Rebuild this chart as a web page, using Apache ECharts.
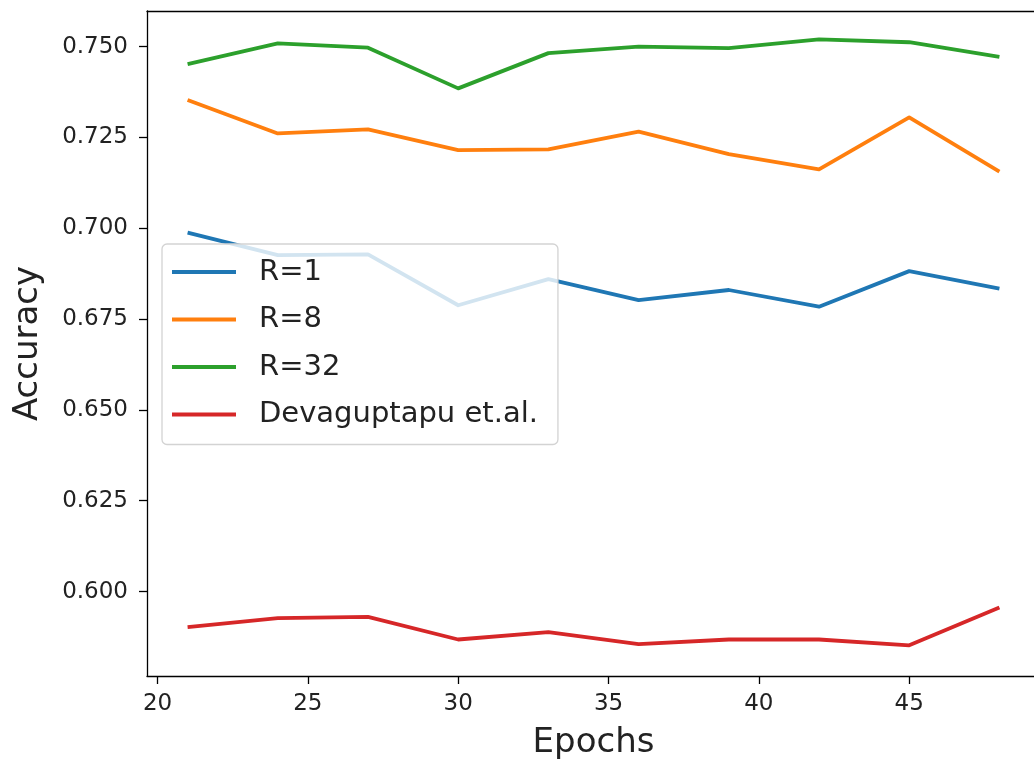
<!DOCTYPE html>
<html>
<head>
<meta charset="utf-8">
<script src="https://cdn.jsdelivr.net/npm/echarts@6/dist/echarts.min.js"></script>
<style>
  html, body { margin: 0; padding: 0; background: #fff; overflow: hidden; }
  #chart { width: 1034px; height: 764px; }
</style>
</head>
<body>
<div id="chart"></div>
<script>
// Training epochs at which accuracy was evaluated
const epochs = [21, 24, 27, 30, 33, 36, 39, 42, 45, 48];

// Accuracy per epoch for each configuration
const accR1 = [0.6988, 0.6926, 0.6928, 0.6788, 0.6860, 0.6802, 0.6830, 0.6784, 0.6882, 0.6834];
const accR8 = [0.7353, 0.7261, 0.7272, 0.7215, 0.7217, 0.7266, 0.7204, 0.7162, 0.7305, 0.7156];
const accR32 = [0.7452, 0.7509, 0.7497, 0.7385, 0.7482, 0.7500, 0.7496, 0.7520, 0.7512, 0.7472];
const accDevaguptapu = [0.5902, 0.5927, 0.5930, 0.5868, 0.5888, 0.5855, 0.5868, 0.5868, 0.5852, 0.5956];

const seriesNames = ['R=1', 'R=8', 'R=32', 'Devaguptapu et.al.'];
const seriesColors = ['#1f77b4', '#ff7f0e', '#2ca02c', '#d62728'];

// Tick positions on both axes
const xTicks = [20, 25, 30, 35, 40, 45];
const yTicks = [0.600, 0.625, 0.650, 0.675, 0.700, 0.725, 0.750];

const FONT = 'DejaVu Sans';
const TEXT = '#222';
const SPINE = { color: '#000', width: 1.3 };

const pairs = ys => epochs.map((e, i) => [e, ys[i]]);
const allValues = [accR1, accR8, accR32, accDevaguptapu];

const chart = echarts.init(document.getElementById('chart'), null, { renderer: 'canvas' });

chart.setOption({
  animation: false,
  backgroundColor: '#fff',
  // the plot area runs a few pixels past the right edge, so there is no right spine in view
  grid: {
    left: 147, top: 11, right: -6, bottom: 88,
    outerBoundsMode: 'none', containLabel: false, show: false
  },
  xAxis: [
    {
      type: 'value',
      min: 19.65,
      max: 49.35,
      name: 'Epochs',
      nameLocation: 'middle',
      nameGap: 50,
      nameTextStyle: { fontFamily: FONT, fontSize: 34, color: TEXT },
      axisLine: { show: true, onZero: false, lineStyle: SPINE },
      axisTick: { show: true, length: 8, lineStyle: SPINE, customValues: xTicks },
      axisLabel: { fontFamily: FONT, fontSize: 23, color: TEXT, margin: 17, customValues: xTicks },
      splitLine: { show: false }
    },
    {
      // top spine only
      type: 'value',
      position: 'top',
      min: 19.65,
      max: 49.35,
      axisLine: { show: true, onZero: false, lineStyle: SPINE },
      axisTick: { show: false },
      axisLabel: { show: false },
      splitLine: { show: false }
    }
  ],
  yAxis: {
    type: 'value',
    min: 0.57675,
    max: 0.7598,
    name: 'Accuracy',
    nameLocation: 'middle',
    nameRotate: 90,
    nameGap: 102,
    nameTextStyle: { fontFamily: FONT, fontSize: 34, color: TEXT },
    axisLine: { show: true, onZero: false, lineStyle: SPINE },
    axisTick: { show: true, length: 8, lineStyle: SPINE, customValues: yTicks },
    axisLabel: {
      fontFamily: FONT, fontSize: 23, color: TEXT, margin: 19,
      customValues: yTicks,
      formatter: v => v.toFixed(3)
    },
    splitLine: { show: false }
  },
  legend: {
    orient: 'vertical',
    left: 162,
    top: 244,
    z: 10,
    padding: [13, 20, 15, 10],
    itemGap: 17.5,
    itemWidth: 64,
    itemHeight: 4,
    icon: 'rect',
    backgroundColor: 'rgba(255,255,255,0.8)',
    borderColor: '#d3d3d3',
    borderWidth: 1.3,
    borderRadius: 5,
    textStyle: { fontFamily: FONT, fontSize: 29, color: TEXT, lineHeight: 30, padding: [0, 0, 0, 18] },
    data: seriesNames
  },
  series: seriesNames.map((name, k) => ({
    name,
    type: 'line',
    xAxisIndex: 0,
    data: pairs(allValues[k]),
    showSymbol: false,
    symbol: 'none',
    clip: true,
    z: 2,
    lineStyle: { color: seriesColors[k], width: 3.8, join: 'round' },
    itemStyle: { color: seriesColors[k] }
  }))
});
</script>
</body>
</html>
